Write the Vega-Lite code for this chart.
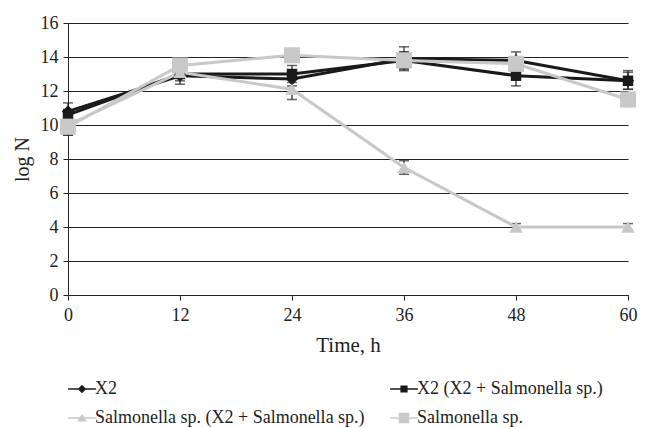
{
  "$schema": "https://vega.github.io/schema/vega-lite/v6.json",
  "width": 560,
  "height": 272,
  "autosize": {"type": "none"},
  "padding": {"left": 68, "top": 23, "right": 18, "bottom": 132},
  "background": "white",
  "config": {
    "view": {"stroke": null},
    "font": "Liberation Serif",
    "axis": {"labelFont": "Liberation Serif", "titleFont": "Liberation Serif", "labelFontSize": 18, "titleFontSize": 21, "titleFontWeight": "normal", "labelFontWeight": "normal", "labelColor": "#222", "titleColor": "#222", "domainColor": "#222", "tickColor": "#222", "gridColor": "#222", "gridOpacity": 1, "gridWidth": 1, "tickSize": 5, "labelOverlap": false},
    "legend": {"labelFont": "Liberation Serif", "labelFontSize": 18, "labelFontWeight": "normal", "labelColor": "#222", "labelLimit": 500}
  },
  "data": {"values": [
    {"t": 0, "s": "X2", "v": 10.8, "lo": 10.3, "hi": 11.3},
    {"t": 12, "s": "X2", "v": 12.9, "lo": 12.6, "hi": 13.2},
    {"t": 24, "s": "X2", "v": 12.7, "lo": 12.3, "hi": 13.1},
    {"t": 36, "s": "X2", "v": 13.9, "lo": 13.2, "hi": 14.6},
    {"t": 48, "s": "X2", "v": 13.8, "lo": 13.3, "hi": 14.3},
    {"t": 60, "s": "X2", "v": 12.6, "lo": 12.1, "hi": 13.1},
    {"t": 0, "s": "X2 (X2 + Salmonella sp.)", "v": 10.6, "lo": 10.3, "hi": 10.9},
    {"t": 12, "s": "X2 (X2 + Salmonella sp.)", "v": 13.0, "lo": 12.4, "hi": 13.5},
    {"t": 24, "s": "X2 (X2 + Salmonella sp.)", "v": 13.0, "lo": 12.5, "hi": 13.5},
    {"t": 36, "s": "X2 (X2 + Salmonella sp.)", "v": 13.8, "lo": 13.3, "hi": 14.3},
    {"t": 48, "s": "X2 (X2 + Salmonella sp.)", "v": 12.9, "lo": 12.3, "hi": 13.5},
    {"t": 60, "s": "X2 (X2 + Salmonella sp.)", "v": 12.6, "lo": 12.1, "hi": 13.2},
    {"t": 0, "s": "Salmonella sp. (X2 + Salmonella sp.)", "v": 10.0, "lo": 9.4, "hi": 10.6},
    {"t": 12, "s": "Salmonella sp. (X2 + Salmonella sp.)", "v": 13.1, "lo": 12.8, "hi": 13.4},
    {"t": 24, "s": "Salmonella sp. (X2 + Salmonella sp.)", "v": 12.1, "lo": 11.5, "hi": 12.7},
    {"t": 36, "s": "Salmonella sp. (X2 + Salmonella sp.)", "v": 7.5, "lo": 7.1, "hi": 7.9},
    {"t": 48, "s": "Salmonella sp. (X2 + Salmonella sp.)", "v": 4.0, "lo": 3.8, "hi": 4.2},
    {"t": 60, "s": "Salmonella sp. (X2 + Salmonella sp.)", "v": 4.0, "lo": 3.8, "hi": 4.2},
    {"t": 0, "s": "Salmonella sp.", "v": 9.9, "lo": 9.4, "hi": 10.4},
    {"t": 12, "s": "Salmonella sp.", "v": 13.5, "lo": 13.2, "hi": 13.8},
    {"t": 24, "s": "Salmonella sp.", "v": 14.1, "lo": 13.8, "hi": 14.4},
    {"t": 36, "s": "Salmonella sp.", "v": 13.8, "lo": 13.3, "hi": 14.3},
    {"t": 48, "s": "Salmonella sp.", "v": 13.6, "lo": 13.3, "hi": 13.9},
    {"t": 60, "s": "Salmonella sp.", "v": 11.5, "lo": 11.2, "hi": 11.8}
  ]},
  "encoding": {
    "x": {"field": "t", "type": "quantitative", "scale": {"domain": [0, 60], "nice": false}, "axis": {"values": [0, 12, 24, 36, 48, 60], "grid": false, "title": "Time, h", "labelPadding": 6, "titlePadding": 10, "labelFlush": false}},
    "y": {"field": "v", "type": "quantitative", "scale": {"domain": [0, 16], "nice": false}, "axis": {"values": [0, 2, 4, 6, 8, 10, 12, 14, 16], "grid": true, "title": "log N", "titleFontSize": 20, "labelPadding": 5, "titlePadding": 8}}
  },
  "layer": [
    {
      "mark": {"type": "rule", "color": "#222", "strokeWidth": 1.2},
      "encoding": {
        "y": {"field": "lo", "type": "quantitative"},
        "y2": {"field": "hi"}
      }
    },
    {
      "mark": {"type": "tick", "orient": "horizontal", "color": "#222", "size": 10, "thickness": 1.5},
      "encoding": {"y": {"field": "lo", "type": "quantitative"}}
    },
    {
      "mark": {"type": "tick", "orient": "horizontal", "color": "#222", "size": 10, "thickness": 1.5},
      "encoding": {"y": {"field": "hi", "type": "quantitative"}}
    },
    {
      "transform": [{"filter": "datum.s === 'X2'"}],
      "mark": {"type": "line", "strokeWidth": 3, "color": "#1a1a1a"},
      "encoding": {}
    },
    {
      "transform": [{"filter": "datum.s === 'X2 (X2 + Salmonella sp.)'"}],
      "mark": {"type": "line", "strokeWidth": 3, "color": "#1a1a1a"},
      "encoding": {}
    },
    {
      "transform": [{"filter": "datum.s === 'Salmonella sp. (X2 + Salmonella sp.)'"}],
      "mark": {"type": "line", "strokeWidth": 3, "color": "#c8c8c8"},
      "encoding": {}
    },
    {
      "transform": [{"filter": "datum.s === 'Salmonella sp.'"}],
      "mark": {"type": "line", "strokeWidth": 3, "color": "#c8c8c8"},
      "encoding": {}
    },
    {
      "transform": [{"filter": "datum.s === 'X2'"}],
      "mark": {"type": "point", "shape": "diamond", "filled": true, "opacity": 1, "size": 150, "color": "#1a1a1a"},
      "encoding": {}
    },
    {
      "transform": [{"filter": "datum.s === 'X2 (X2 + Salmonella sp.)'"}],
      "mark": {"type": "point", "shape": "square", "filled": true, "opacity": 1, "size": 110, "color": "#1a1a1a"},
      "encoding": {}
    },
    {
      "transform": [{"filter": "datum.s === 'Salmonella sp. (X2 + Salmonella sp.)'"}],
      "mark": {"type": "point", "shape": "triangle-up", "filled": true, "opacity": 1, "size": 180, "color": "#c8c8c8"},
      "encoding": {}
    },
    {
      "transform": [{"filter": "datum.s === 'Salmonella sp.'"}],
      "mark": {"type": "point", "shape": "square", "filled": true, "opacity": 1, "size": 260, "color": "#c8c8c8"},
      "encoding": {}
    },
    {
      "transform": [{"filter": "false"}],
      "mark": {"type": "point", "filled": true, "opacity": 1, "size": 400},
      "encoding": {
        "color": {"field": "s", "type": "nominal",
          "scale": {"domain": ["X2", "X2 (X2 + Salmonella sp.)", "Salmonella sp. (X2 + Salmonella sp.)", "Salmonella sp."], "range": ["#1a1a1a", "#1a1a1a", "#c8c8c8", "#c8c8c8"]},
          "legend": {
            "title": null,
            "orient": "bottom",
            "direction": "horizontal",
            "columns": 2,
            "columnPadding": 25,
            "rowPadding": 10,
            "labelOffset": 3,
            "offset": 24,
            "symbolOffset": 4,
            "symbolSize": 400,
            "symbolStrokeWidth": 0,
            "symbolOpacity": 1
          }
        },
        "shape": {"field": "s", "type": "nominal",
          "scale": {"domain": ["X2", "X2 (X2 + Salmonella sp.)", "Salmonella sp. (X2 + Salmonella sp.)", "Salmonella sp."],
            "range": [
              "M-1.39,-0.08H1.39V0.08H-1.39Z M0,-0.42L0.42,0L0,0.42L-0.42,0Z",
              "M-1.39,-0.08H1.39V0.08H-1.39Z M-0.36,-0.36H0.36V0.36H-0.36Z",
              "M-1.39,-0.08H1.39V0.08H-1.39Z M0,-0.42L0.46,0.36H-0.46Z",
              "M-1.39,-0.08H1.39V0.08H-1.39Z M-0.52,-0.52H0.52V0.52H-0.52Z"
            ]}
        }
      }
    }
  ]
}
